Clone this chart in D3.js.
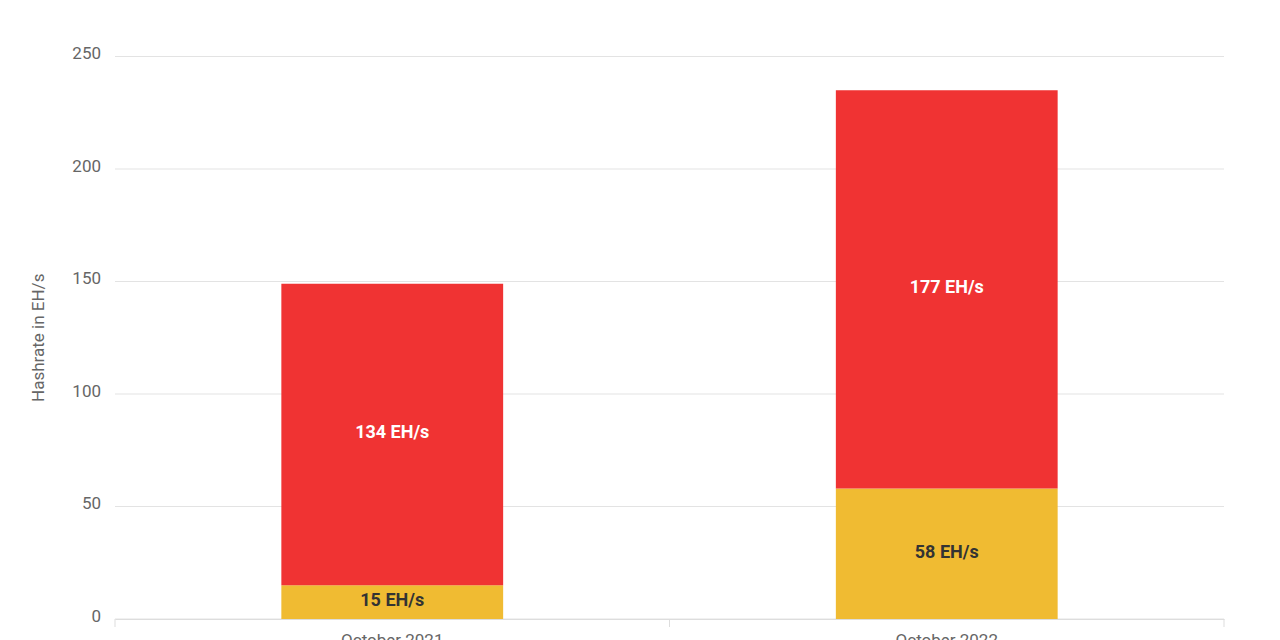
<!DOCTYPE html>
<html><head><meta charset="utf-8">
<script src="https://cdn.jsdelivr.net/npm/d3@7"></script>
<style>body{margin:0;background:#fff;overflow:hidden}svg{font-family:Roboto,sans-serif}</style>
</head><body><svg width="1280" height="640"></svg>
<script>
const categories = ["October 2021", "October 2022"];
const bottomValues = [15, 58];
const topValues = [134, 177];
const yTicks = [0, 50, 100, 150, 200, 250];

const svg = d3.select("svg");
const x = d3.scaleBand().domain(categories).range([115, 1224]).paddingInner(0.6).paddingOuter(0.3);
const y = d3.scaleLinear().domain([0, 250]).range([619, 56.5]);

const g = svg.append("g");
yTicks.forEach(t => {
  g.append("line").attr("x1", 115).attr("x2", 1224).attr("y1", y(t)).attr("y2", y(t))
    .attr("stroke", "#e3e3e3").attr("stroke-width", 1);
  g.append("text").attr("x", 101).attr("y", y(t) - 3).attr("dy", "0.35em").attr("text-anchor", "end")
    .attr("fill", "#666").attr("font-size", 17).text(t);
});
const xAxis = svg.append("g").attr("transform", `translate(0,${y(0)})`)
  .call(d3.axisBottom(x).tickSize(8).tickSizeOuter(0).tickPadding(16));
xAxis.select(".domain").attr("stroke", "#ddd");
xAxis.selectAll(".tick line").remove();
xAxis.selectAll(".tick text").attr("font-size", 17).attr("fill", "#666").attr("font-family", "Roboto").attr("dy", "0.2em");
[115, 669.5, 1224].forEach(px => xAxis.append("line").attr("x1", px).attr("x2", px).attr("y1", 0).attr("y2", 8).attr("stroke", "#ddd"));

svg.append("text").attr("transform", `translate(44,${y(125)}) rotate(-90)`).attr("text-anchor", "middle")
  .attr("fill", "#666").attr("font-size", 17).text("Hashrate in EH/s");

categories.forEach((c, i) => {
  const b = bottomValues[i], t = topValues[i];
  svg.append("rect").attr("x", x(c)).attr("width", x.bandwidth()).attr("y", y(b)).attr("height", y(0) - y(b)).attr("fill", "#f0bb32");
  svg.append("rect").attr("x", x(c)).attr("width", x.bandwidth()).attr("y", y(b + t)).attr("height", y(b) - y(b + t)).attr("fill", "#f03333");
  svg.append("text").attr("x", x(c) + x.bandwidth()/2).attr("y", y(b/2) - 2).attr("dy", "0.35em").attr("text-anchor", "middle")
    .attr("font-size", 18).attr("font-weight", "bold").attr("fill", "#333").text(b + " EH/s");
  svg.append("text").attr("x", x(c) + x.bandwidth()/2).attr("y", y(b + t/2) - 3).attr("dy", "0.35em").attr("text-anchor", "middle")
    .attr("font-size", 18).attr("font-weight", "bold").attr("fill", "#fff").text(t + " EH/s");
});
</script></body></html>
